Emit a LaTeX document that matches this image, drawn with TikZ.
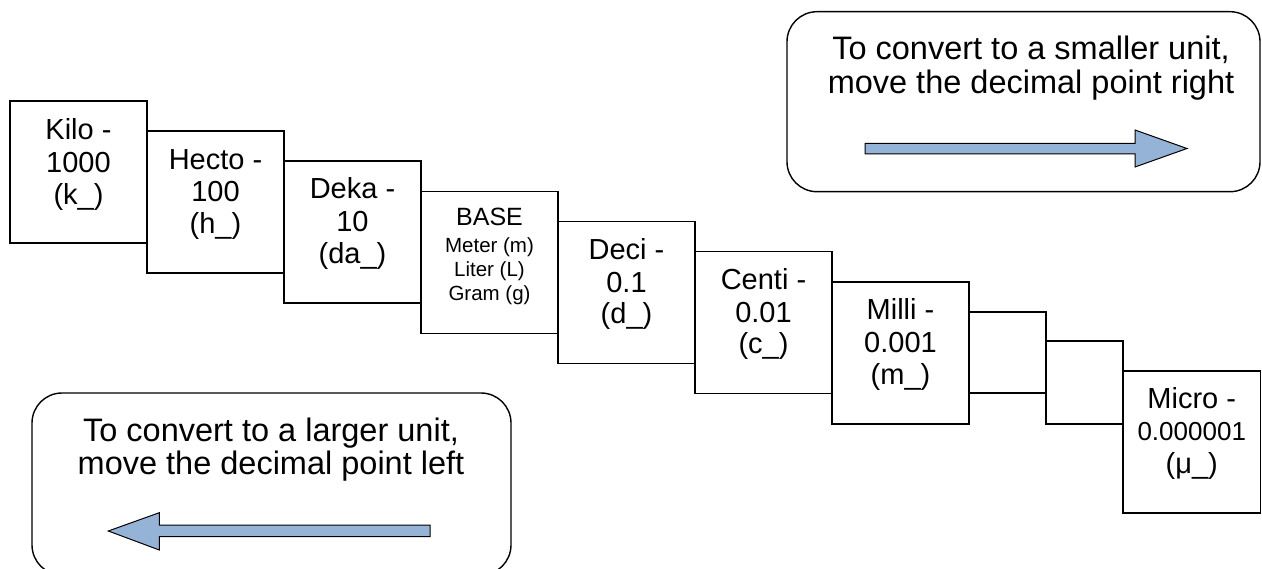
\documentclass[tikz,border=0pt]{standalone}
\usepackage{fontspec}
\setmainfont{Liberation Sans}
\usetikzlibrary{calc}
\definecolor{arrowblue}{HTML}{95B3D7}
\begin{document}
\begin{tikzpicture}[x=1pt,y=-1pt,
  ubox/.style={draw, line width=1.9pt, fill=white, anchor=north west, inner sep=0pt, outer sep=0pt, minimum width=137pt, minimum height=142pt},
  ebox/.style={draw, line width=1.9pt, fill=white, anchor=north west, inner sep=0pt, outer sep=0pt},
  rbox/.style={draw, line width=1.4pt, rounded corners=30pt, anchor=north west, inner sep=0pt, outer sep=0pt},
  lbl/.style={anchor=base, inner sep=0pt, font=\fontsize{29}{33}\selectfont},
  lblmid/.style={anchor=base, inner sep=0pt, font=\fontsize{25}{28}\selectfont},
  lblsmall/.style={anchor=base, inner sep=0pt, font=\fontsize{20.5}{24}\selectfont},
  lblnum/.style={anchor=base, inner sep=0pt, font=\fontsize{26}{30}\selectfont},
  lblbig/.style={anchor=base, inner sep=0pt, font=\fontsize{32.5}{36}\selectfont},
  barrow/.style={fill=arrowblue, draw=black, line width=1pt, line join=miter}
]
\path[use as bounding box, clip] (0,0) rectangle (1262,569);

% unit boxes
\node[ubox] (kilo) at (10,101) {};
\node[ubox] (hecto) at (147,131) {};
\node[ubox] (deka) at (284,161) {};
\node[ubox] (base) at (421,191.5) {};
\node[ubox] (deci) at (558,221.5) {};
\node[ubox] (centi) at (695,251.5) {};
\node[ubox] (milli) at (832,282) {};
\node[ebox, minimum width=77pt, minimum height=81pt] (gapa) at (969,312) {};
\node[ebox, minimum width=77pt, minimum height=83pt] (gapb) at (1046,341) {};
\node[ubox, minimum width=137.5pt] (micro) at (1123,371) {};

% texts
\node[lbl] (kiloa) at ($(kilo.north)+(0,39)$) {Kilo -};
\node[lbl] (kilob) at ($(kilo.north)+(0,71.5)$) {1000};
\node[lbl] (kiloc) at ($(kilo.north)+(0,103.5)$) {(k\_)};

\node[lbl] (hectoa) at ($(hecto.north)+(0,38.5)$) {Hecto -};
\node[lbl] (hectob) at ($(hecto.north)+(0,71)$) {100};
\node[lbl] (hectoc) at ($(hecto.north)+(0,103)$) {(h\_)};

\node[lbl] (dekaa) at ($(deka.north)+(0,38)$) {Deka -};
\node[lbl] (dekab) at ($(deka.north)+(0,71)$) {10};
\node[lbl] (dekac) at ($(deka.north)+(0,102.5)$) {(da\_)};

\node[lblmid] (basea) at ($(base.north)+(0,34.5)$) {BASE};
\node[lblsmall] (baseb) at ($(base.north)+(0,61)$) {Meter (m)};
\node[lblsmall] (basec) at ($(base.north)+(0,85)$) {Liter (L)};
\node[lblsmall] (based) at ($(base.north)+(0,109)$) {Gram (g)};

\node[lbl] (decia) at ($(deci.north)+(0,38)$) {Deci -};
\node[lbl] (decib) at ($(deci.north)+(0,71)$) {0.1};
\node[lbl] (decic) at ($(deci.north)+(0,102.5)$) {(d\_)};

\node[lbl] (centia) at ($(centi.north)+(0,38)$) {Centi -};
\node[lbl] (centib) at ($(centi.north)+(0,71)$) {0.01};
\node[lbl] (centic) at ($(centi.north)+(0,102.5)$) {(c\_)};

\node[lbl] (millia) at ($(milli.north)+(0,38)$) {Milli -};
\node[lbl] (millib) at ($(milli.north)+(0,71)$) {0.001};
\node[lbl] (millic) at ($(milli.north)+(0,102.5)$) {(m\_)};

\node[lbl] (microa) at ($(micro.north)+(0,37.5)$) {Micro -};
\node[lblnum] (microb) at ($(micro.north)+(0,70)$) {0.000001};
\node[lbl] (microc) at ($(micro.north)+(0,102)$) {(μ\_)};

% rounded info boxes
\node[rbox, minimum width=473pt, minimum height=180pt] (smaller) at (787,11.7) {};
\node[lblbig] (smallera) at (1031,60) {To convert to a smaller unit,};
\node[lblbig] (smallerb) at (1031,94) {move the decimal point right};
\draw[barrow] (865,143.3) -- (1135,143.3) -- (1135,130) -- (1187,148.5) -- (1135,167) -- (1135,154) -- (865,154) -- cycle;

\node[rbox, minimum width=479pt, minimum height=182pt] (larger) at (32,393) {};
\node[lblbig] (largera) at (271,441.7) {To convert to a larger unit,};
\node[lblbig] (largerb) at (271,475) {move the decimal point left};
\draw[barrow] (430,525) -- (159.3,525) -- (159.3,512.7) -- (108.3,531) -- (159.3,550) -- (159.3,536.5) -- (430,536.5) -- cycle;
\end{tikzpicture}
\end{document}
